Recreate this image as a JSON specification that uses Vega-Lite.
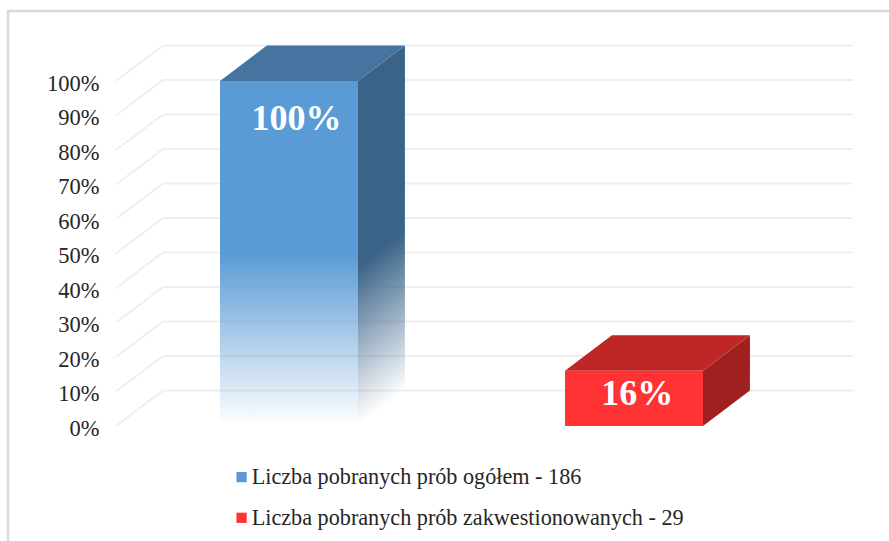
{
  "$schema": "https://vega.github.io/schema/vega-lite/v6.json",
  "width": 889,
  "height": 541,
  "padding": 0,
  "autosize": "none",
  "background": "white",
  "config": {"view": {"stroke": null}},
  "datasets": {
    "bars": [
      {"category": "Liczba pobranych prób ogółem - 186", "value": 100, "base": 0, "u0": 0, "u1": 1, "label": "100%", "lu": 0.555, "lp": 89.0},
      {"category": "Liczba pobranych prób zakwestionowanych - 29", "value": 16, "base": 0, "u0": 2.5, "u1": 3.5, "label": "16%", "lu": 3.024, "lp": 9.3}
    ],
    "faces": [
      {"face": "blueTop", "u": 0, "lo": 100, "hi": 100},
      {"face": "blueTop", "u": 0.34, "lo": 100, "hi": 110.3},
      {"face": "blueTop", "u": 1, "lo": 100, "hi": 110.3},
      {"face": "blueTop", "u": 1.34, "lo": 110.3, "hi": 110.3},
      {"face": "blueSide", "u": 1, "lo": 0, "hi": 100},
      {"face": "blueSide", "u": 1.34, "lo": 10.3, "hi": 110.3},
      {"face": "redTop", "u": 2.5, "lo": 16, "hi": 16},
      {"face": "redTop", "u": 2.84, "lo": 16, "hi": 26.3},
      {"face": "redTop", "u": 3.5, "lo": 16, "hi": 26.3},
      {"face": "redTop", "u": 3.84, "lo": 26.3, "hi": 26.3},
      {"face": "redSide", "u": 3.5, "lo": 0, "hi": 16},
      {"face": "redSide", "u": 3.84, "lo": 10.3, "hi": 26.3}
    ],
    "grid": [
      {"level": 0, "u": -0.754, "p": 0}, {"level": 0, "u": -0.413, "p": 10.3}, {"level": 0, "u": 4.587, "p": 10.3},
      {"level": 10, "u": -0.754, "p": 10}, {"level": 10, "u": -0.413, "p": 20.3}, {"level": 10, "u": 4.587, "p": 20.3},
      {"level": 20, "u": -0.754, "p": 20}, {"level": 20, "u": -0.413, "p": 30.3}, {"level": 20, "u": 4.587, "p": 30.3},
      {"level": 30, "u": -0.754, "p": 30}, {"level": 30, "u": -0.413, "p": 40.3}, {"level": 30, "u": 4.587, "p": 40.3},
      {"level": 40, "u": -0.754, "p": 40}, {"level": 40, "u": -0.413, "p": 50.3}, {"level": 40, "u": 4.587, "p": 50.3},
      {"level": 50, "u": -0.754, "p": 50}, {"level": 50, "u": -0.413, "p": 60.3}, {"level": 50, "u": 4.587, "p": 60.3},
      {"level": 60, "u": -0.754, "p": 60}, {"level": 60, "u": -0.413, "p": 70.3}, {"level": 60, "u": 4.587, "p": 70.3},
      {"level": 70, "u": -0.754, "p": 70}, {"level": 70, "u": -0.413, "p": 80.3}, {"level": 70, "u": 4.587, "p": 80.3},
      {"level": 80, "u": -0.754, "p": 80}, {"level": 80, "u": -0.413, "p": 90.3}, {"level": 80, "u": 4.587, "p": 90.3},
      {"level": 90, "u": -0.754, "p": 90}, {"level": 90, "u": -0.413, "p": 100.3}, {"level": 90, "u": 4.587, "p": 100.3},
      {"level": 100, "u": -0.754, "p": 100}, {"level": 100, "u": -0.413, "p": 110.3}, {"level": 100, "u": 4.587, "p": 110.3}
    ],
    "frame": [
      {"seq": 1, "u": -1.536, "p": -33.33},
      {"seq": 2, "u": -1.536, "p": 120.3},
      {"seq": 3, "u": 4.848, "p": 120.3}
    ]
  },
  "layer": [
    {
      "data": {"name": "frame"},
      "mark": {"type": "line", "stroke": "#d9d9d9", "strokeWidth": 2.5},
      "encoding": {
        "x": {"field": "u", "type": "quantitative", "scale": {"domain": [-1.5942, 4.8478], "nice": false, "zero": false}, "axis": null},
        "y": {
          "field": "p", "type": "quantitative",
          "scale": {"domain": [-33.33, 123.48], "nice": false, "zero": false},
          "axis": {
            "values": [0, 10, 20, 30, 40, 50, 60, 70, 80, 90, 100],
            "labelExpr": "datum.value + '%'",
            "title": null, "domain": false, "ticks": false, "grid": false,
            "offset": -99, "labelPadding": 0, "labelOffset": 2,
            "labelFont": "Liberation Serif", "labelFontSize": 22.5, "labelColor": "#262626"
          }
        },
        "order": {"field": "seq", "type": "quantitative"}
      }
    },
    {
      "data": {"name": "grid"},
      "mark": {"type": "line", "stroke": "#efefef", "strokeWidth": 2},
      "encoding": {
        "x": {"field": "u", "type": "quantitative"},
        "y": {"field": "p", "type": "quantitative"},
        "detail": {"field": "level", "type": "nominal"}
      }
    },
    {
      "data": {"name": "faces"},
      "transform": [{"filter": "datum.face === 'blueSide'"}],
      "mark": {
        "type": "area", "orient": "vertical",
        "fill": {
          "gradient": "linear", "x1": 0, "y1": 0, "x2": 0.092, "y2": 0.991,
          "stops": [
            {"offset": 0, "color": "#3a6387"},
            {"offset": 0.58, "color": "#3a6387"},
            {"offset": 1, "color": "rgba(58,99,135,0)"}
          ]
        }
      },
      "encoding": {
        "x": {"field": "u", "type": "quantitative"},
        "y": {"field": "lo", "type": "quantitative"},
        "y2": {"field": "hi"}
      }
    },
    {
      "data": {"name": "faces"},
      "transform": [{"filter": "datum.face === 'blueTop'"}],
      "mark": {"type": "area", "orient": "vertical", "fill": "#4574a0"},
      "encoding": {
        "x": {"field": "u", "type": "quantitative"},
        "y": {"field": "lo", "type": "quantitative"},
        "y2": {"field": "hi"}
      }
    },
    {
      "data": {"name": "faces"},
      "transform": [{"filter": "datum.face === 'redSide'"}],
      "mark": {"type": "area", "orient": "vertical", "fill": "#a01f1f"},
      "encoding": {
        "x": {"field": "u", "type": "quantitative"},
        "y": {"field": "lo", "type": "quantitative"},
        "y2": {"field": "hi"}
      }
    },
    {
      "data": {"name": "faces"},
      "transform": [{"filter": "datum.face === 'redTop'"}],
      "mark": {"type": "area", "orient": "vertical", "fill": "#bf2626"},
      "encoding": {
        "x": {"field": "u", "type": "quantitative"},
        "y": {"field": "lo", "type": "quantitative"},
        "y2": {"field": "hi"}
      }
    },
    {
      "data": {"name": "bars"},
      "transform": [{"filter": "datum.value === 100"}],
      "mark": {
        "type": "rect",
        "fill": {
          "gradient": "linear", "x1": 0, "y1": 0, "x2": 0, "y2": 1,
          "stops": [
            {"offset": 0, "color": "#5b9bd5"},
            {"offset": 0.5, "color": "#5b9bd5"},
            {"offset": 1, "color": "rgba(91,155,213,0)"}
          ]
        }
      },
      "encoding": {
        "x": {"field": "u0", "type": "quantitative"},
        "x2": {"field": "u1"},
        "y": {"field": "value", "type": "quantitative"},
        "y2": {"field": "base"}
      }
    },
    {
      "data": {"name": "bars"},
      "transform": [{"filter": "datum.value === 16"}],
      "mark": {"type": "rect"},
      "encoding": {
        "x": {"field": "u0", "type": "quantitative"},
        "x2": {"field": "u1"},
        "y": {"field": "value", "type": "quantitative"},
        "y2": {"field": "base"},
        "color": {
          "field": "category", "type": "nominal",
          "scale": {
            "domain": ["Liczba pobranych prób ogółem - 186", "Liczba pobranych prób zakwestionowanych - 29"],
            "range": ["#5b9bd5", "#ff3333"]
          },
          "legend": {
            "orient": "none", "legendX": 230.5, "legendY": 466,
            "title": null, "symbolType": "square", "symbolSize": 105, "symbolStrokeWidth": 0,
            "labelFont": "Liberation Serif", "labelFontSize": 22.2, "labelColor": "#262626",
            "labelLimit": 600, "labelOffset": -1, "rowPadding": 17.7
          }
        }
      }
    },
    {
      "data": {"name": "bars"},
      "mark": {"type": "text", "font": "Liberation Serif", "fontWeight": "bold", "fontSize": 36, "fill": "white", "align": "center", "baseline": "middle"},
      "encoding": {
        "x": {"field": "lu", "type": "quantitative"},
        "y": {"field": "lp", "type": "quantitative"},
        "text": {"field": "label", "type": "nominal"}
      }
    }
  ]
}
